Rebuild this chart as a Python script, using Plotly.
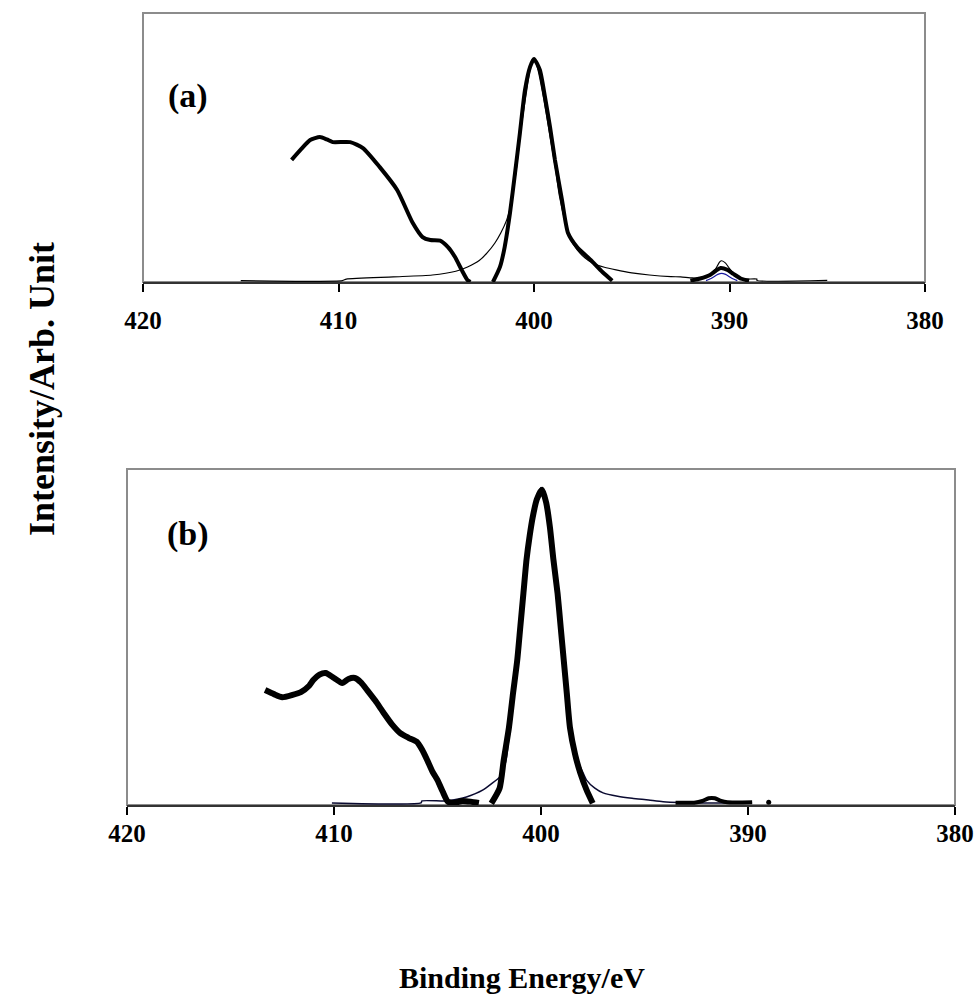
import plotly.graph_objects as go

# ---------------- Panel (a) data ----------------
a_thick1_x = [412.4, 411.9, 411.45, 410.95, 410.6, 410.3, 409.4, 408.75, 407.9, 407.0, 406.2, 405.7, 405.3, 404.8, 404.4, 404.04, 403.7, 403.4, 403.25]
a_thick1_y = [45.4, 49.5, 52.8, 53.9, 53.0, 52.0, 52.0, 49.8, 42.8, 34.2, 21.9, 16.7, 15.6, 15.4, 13.0, 9.3, 4.5, 0.7, 0.0]

a_thick2_x = [402.1, 401.74, 401.5, 401.23, 400.97, 400.72, 400.46, 400.2, 400.0, 399.7, 399.44, 399.18, 398.93, 398.57, 398.26, 397.8, 397.1, 396.5, 396.0]
a_thick2_y = [0.0, 5.6, 13.0, 25.6, 40.5, 55.4, 71.4, 80.0, 82.9, 78.8, 68.8, 57.6, 45.4, 30.5, 18.2, 13.0, 8.2, 3.7, 0.5]

a_thick3_x = [392.0, 391.5, 391.0, 390.7, 390.45, 390.1, 389.8, 389.4, 389.0]
a_thick3_y = [0.5, 1.3, 2.6, 4.2, 5.2, 4.5, 3.0, 1.2, 0.5]

a_thin_x = [415.0, 409.8, 409.6, 407.2, 405.2, 404.0, 403.4, 402.8, 402.4, 402.0, 401.7, 401.4, 401.2, 400.9, 400.7, 400.4,
            400.2, 400.0, 399.8, 399.5, 399.2, 398.9, 398.7, 398.4, 398.2, 397.8, 397.4, 397.0, 396.4, 395.8, 395.0, 394.1,
            393.0, 392.5, 391.9, 391.5, 391.0, 390.7, 390.5, 390.4, 390.2, 390.0, 389.7, 389.3, 388.6, 388.6, 385.0]
a_thin_y = [0.5, 0.5, 1.1, 1.9, 2.6, 4.0, 5.6, 8.0, 10.8, 14.5, 18.2, 23.0, 28.0, 42.0, 55.0, 70.0,
            79.0, 83.0, 79.0, 68.0, 55.0, 42.0, 32.0, 22.0, 17.0, 12.0, 9.0, 7.0, 5.5, 4.5, 3.4, 2.6,
            2.0, 1.9, 1.5, 1.6, 2.8, 5.0, 7.5, 7.9, 7.0, 5.0, 2.5, 1.1, 1.1, 0.6, 0.6]

a_blue_x = [391.2, 390.9, 390.6, 390.4, 390.2, 389.9, 389.6]
a_blue_y = [0.5, 1.5, 2.8, 3.2, 2.8, 1.5, 0.5]

# ---------------- Panel (b) data ----------------
b_thick1_x = [413.33, 412.9, 412.5, 412.0, 411.6, 411.2, 411.0, 410.7, 410.4, 410.0, 409.6, 409.3, 409.0, 408.7, 408.4,
              408.0, 407.6, 407.2, 406.8, 406.4, 406.0, 405.75, 405.5, 405.25, 405.0, 404.75, 404.5, 404.2, 403.8, 403.4, 403.0]
b_thick1_y = [34.2, 33.0, 32.1, 32.8, 33.6, 35.5, 37.2, 38.8, 39.3, 37.8, 36.3, 37.5, 37.8, 36.5, 34.2,
              31.0, 27.4, 24.0, 21.4, 20.0, 18.8, 16.5, 13.4, 10.0, 7.4, 4.0, 1.0, 0.6, 1.2, 1.0, 0.6]

b_thick2_x = [402.4, 402.0, 401.8, 401.55, 401.35, 401.15, 401.0, 400.85, 400.7, 400.55, 400.4, 400.2, 399.95,
              399.75, 399.57, 399.4, 399.2, 399.05, 398.9, 398.75, 398.6, 398.35, 398.1, 397.8, 397.5]
b_thick2_y = [0.5, 5.0, 13.4, 23.0, 33.3, 43.0, 53.0, 63.0, 73.0, 80.0, 85.7, 91.0, 93.8,
              90.0, 82.7, 73.0, 63.0, 53.0, 43.0, 33.0, 23.0, 15.0, 9.5, 4.5, 0.5]

b_thick3_x = [393.5, 392.6, 392.2, 391.9, 391.6, 391.3, 391.0, 389.8]
b_thick3_y = [0.7, 0.7, 1.2, 2.0, 2.0, 1.2, 0.8, 0.8]

b_dot_x = [389.0]
b_dot_y = [0.8]

b_thin_x = [410.1, 405.8, 405.75, 404.6, 404.0, 403.6, 403.2, 402.8, 402.4, 402.0, 401.7, 401.35, 401.0, 400.7, 400.4,
            400.2, 400.0, 399.8, 399.57, 399.2, 398.9, 398.6, 398.35, 398.0, 397.8, 397.4, 397.0, 396.3, 395.6, 394.8,
            394.1, 392.0, 389.8]
b_thin_y = [0.6, 0.6, 1.2, 1.2, 1.8, 2.4, 3.3, 4.5, 6.3, 8.3, 13.0, 33.0, 53.0, 73.0, 86.0,
            91.5, 94.5, 91.0, 83.0, 63.0, 43.0, 23.0, 15.0, 10.0, 7.4, 5.0, 3.6, 2.6, 2.0, 1.5,
            1.0, 0.6, 0.6]

tick_vals = [420, 410, 400, 390, 380]
tick_text = ["420", "410", "400", "390", "380"]

FONT = "Times New Roman, Liberation Serif, Tinos, DejaVu Serif, serif"
W, H = 976, 1002

fig = go.Figure()

def add_line(x, y, xa, ya, width, color):
    fig.add_trace(go.Scatter(x=x, y=y, mode="lines", xaxis=xa, yaxis=ya,
                             line=dict(color=color, width=width, shape="spline", smoothing=0.6),
                             showlegend=False, hoverinfo="skip"))

# panel a
add_line(a_thin_x, a_thin_y, "x", "y", 1.2, "#000000")
add_line(a_thick1_x, a_thick1_y, "x", "y", 4, "#000000")
add_line(a_thick2_x, a_thick2_y, "x", "y", 4, "#000000")
add_line(a_thick3_x, a_thick3_y, "x", "y", 4, "#000000")
add_line(a_blue_x, a_blue_y, "x", "y", 1.3, "#1a1aa0")

# panel b
add_line(b_thin_x, b_thin_y, "x2", "y2", 1.5, "#0a0a30")
add_line(b_thick1_x, b_thick1_y, "x2", "y2", 6, "#000000")
add_line(b_thick2_x, b_thick2_y, "x2", "y2", 6, "#000000")
add_line(b_thick3_x, b_thick3_y, "x2", "y2", 4, "#000000")
fig.add_trace(go.Scatter(x=b_dot_x, y=b_dot_y, mode="markers", xaxis="x2", yaxis="y2",
                         marker=dict(color="#000000", size=5), showlegend=False, hoverinfo="skip"))

def xaxis_cfg(domain, anchor, standoff):
    return dict(domain=domain, anchor=anchor, range=[420, 380], tickmode="array",
                tickvals=tick_vals, ticktext=tick_text, ticks="outside", ticklen=8,
                tickwidth=1.5, tickcolor="#000000", showline=True, linecolor="#333333",
                linewidth=2, showgrid=False, zeroline=False, ticklabelstandoff=standoff,
                automargin=False,
                tickfont=dict(family=FONT, size=25, color="#000000", weight="bold"))

def yaxis_cfg(domain, anchor):
    return dict(domain=domain, anchor=anchor, range=[0, 100], visible=False,
                showgrid=False, zeroline=False, automargin=False)

fig.update_layout(
    width=W, height=H, autosize=False,
    margin=dict(l=0, r=0, t=0, b=0, autoexpand=False),
    paper_bgcolor="white", plot_bgcolor="white",
    font=dict(family=FONT),
    xaxis=xaxis_cfg([143 / W, 925 / W], "y", 7),
    yaxis=yaxis_cfg([1 - 282 / H, 1 - 13 / H], "x"),
    xaxis2=xaxis_cfg([127 / W, 955 / W], "y2", -3),
    yaxis2=yaxis_cfg([1 - 805 / H, 1 - 469 / H], "x2"),
    shapes=[
        dict(type="rect", xref="x domain", yref="y domain", x0=0, x1=1, y0=0, y1=1,
             line=dict(color="#8c8c8c", width=2), layer="below"),
        dict(type="rect", xref="x2 domain", yref="y2 domain", x0=0, x1=1, y0=0, y1=1,
             line=dict(color="#8c8c8c", width=2), layer="below"),
    ],
    annotations=[
        dict(text="(a)", x=188 / W, y=1 - 96 / H, xref="paper", yref="paper", showarrow=False,
             xanchor="center", yanchor="middle", font=dict(family=FONT, size=34, color="#000000", weight="bold")),
        dict(text="(b)", x=188 / W, y=1 - 534 / H, xref="paper", yref="paper", showarrow=False,
             xanchor="center", yanchor="middle", font=dict(family=FONT, size=34, color="#000000", weight="bold")),
        dict(text="Intensity/Arb. Unit", x=42 / W, y=1 - 389 / H, xref="paper", yref="paper",
             showarrow=False, textangle=-90, xanchor="center", yanchor="middle",
             font=dict(family=FONT, size=36, color="#000000", weight="bold")),
        dict(text="Binding Energy/eV", x=522 / W, y=1 - 977 / H, xref="paper", yref="paper",
             showarrow=False, xanchor="center", yanchor="middle",
             font=dict(family=FONT, size=30, color="#000000", weight="bold")),
    ],
)

fig.write_html("out.html")
